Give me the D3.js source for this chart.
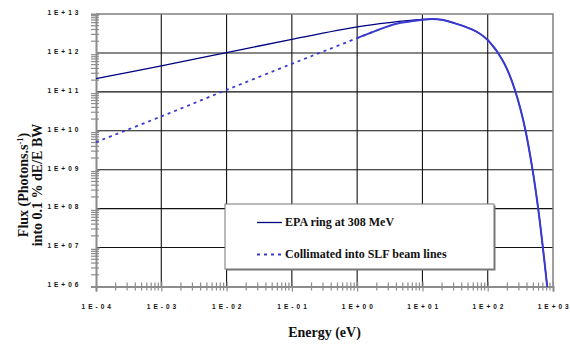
<!DOCTYPE html>
<html>
<head>
<meta charset="utf-8">
<script src="https://cdn.jsdelivr.net/npm/d3@7"></script>
<style>
  body { margin: 0; background: #fff; }
  svg { display: block; }
  .serif { font-family: "Liberation Serif", "Times New Roman", Times, serif; font-weight: bold; }
</style>
</head>
<body>
<div id="chart"></div>
<script>
// energy (eV) and flux
const energyRing = [1e-4, 1e-3, 1e-2, 1e-1, 1, 3.16, 10, 14.1, 20, 31.6, 56, 75, 100, 117, 136, 158, 178, 214, 261, 316, 380, 486, 593, 700, 815];
const fluxRing = [2.19e11, 4.68e11, 1.02e12, 2.24e12, 4.68e12, 6.03e12, 7.24e12, 7.41e12, 7.08e12, 5.75e12, 4.07e12, 3.16e12, 2.14e12, 1.58e12, 1.15e12, 7.76e11, 5.5e11, 2.82e11, 1.12e11, 3.72e10, 1.0e10, 1.0e9, 1.0e8, 1.0e7, 1.0e6];

const energyColl = [1e-4, 1e-3, 1e-2, 1e-1, 0.316, 1, 2, 4, 10, 14.1, 20, 31.6, 56, 75, 100, 117, 136, 158, 178, 214, 261, 316, 380, 486, 593, 700, 815];
const fluxColl = [5.13e9, 2.34e10, 1.12e11, 5.25e11, 1.12e12, 2.40e12, 3.80e12, 5.62e12, 7.08e12, 7.41e12, 7.08e12, 5.75e12, 4.07e12, 3.16e12, 2.14e12, 1.58e12, 1.15e12, 7.76e11, 5.5e11, 2.82e11, 1.12e11, 3.72e10, 1.0e10, 1.0e9, 1.0e8, 1.0e7, 1.0e6];

const xTicks = [1e-4, 1e-3, 1e-2, 1e-1, 1e0, 1e1, 1e2, 1e3];
const xTickLabels = ["1 E - 0 4", "1 E - 0 3", "1 E - 0 2", "1 E - 0 1", "1 E + 0 0", "1 E + 0 1", "1 E + 0 2", "1 E + 0 3"];
const yTicks = [1e6, 1e7, 1e8, 1e9, 1e10, 1e11, 1e12, 1e13];
const yTickLabels = ["1 E + 0 6", "1 E + 0 7", "1 E + 0 8", "1 E + 0 9", "1 E + 1 0", "1 E + 1 1", "1 E + 1 2", "1 E + 1 3"];

const seriesNames = ["EPA ring at 308 MeV", "Collimated into SLF beam lines"];

const width = 570, height = 345;
const margin = { top: 14, right: 17, bottom: 58.5, left: 96 };

const svg = d3.select("#chart").append("svg")
  .attr("width", width)
  .attr("height", height);

const x = d3.scaleLog().domain([1e-4, 1e3]).range([margin.left, width - margin.right]);
const y = d3.scaleLog().domain([1e6, 1e13]).range([height - margin.bottom, margin.top]);

// minor tick positions (2..9 in every decade)
const minorX = [], minorY = [];
xTicks.slice(0, -1).forEach(d => { for (let k = 2; k <= 9; k++) minorX.push(d * k); });
yTicks.slice(0, -1).forEach(d => { for (let k = 2; k <= 9; k++) minorY.push(d * k); });

// grid
const grid = svg.append("g");
grid.selectAll(".gx").data(xTicks.slice(1, -1)).join("line")
  .attr("x1", d => x(d)).attr("x2", d => x(d))
  .attr("y1", margin.top).attr("y2", height - margin.bottom)
  .attr("stroke", "#111").attr("stroke-width", 1.1);
grid.selectAll(".gy").data(yTicks.slice(1, -1)).join("line")
  .attr("x1", margin.left).attr("x2", width - margin.right)
  .attr("y1", d => y(d)).attr("y2", d => y(d))
  .attr("stroke", "#111").attr("stroke-width", 1.1);

// plot frame (top + right)
svg.append("path")
  .attr("d", `M${margin.left},${margin.top}H${width - margin.right}V${height - margin.bottom}`)
  .attr("fill", "none").attr("stroke", "#808080").attr("stroke-width", 1.5);

// axes
const xAxis = g => g
  .attr("transform", `translate(0,${height - margin.bottom})`)
  .call(d3.axisBottom(x).tickValues(xTicks).tickFormat((d, i) => xTickLabels[i]).tickSize(5).tickPadding(13));
const yAxis = g => g
  .attr("transform", `translate(${margin.left},0)`)
  .call(d3.axisLeft(y).tickValues(yTicks).tickFormat((d, i) => yTickLabels[i]).tickSize(5).tickPadding(12));

const gx = svg.append("g").call(xAxis);
const gy = svg.append("g").call(yAxis);
[gx, gy].forEach(g => {
  g.select(".domain").attr("stroke", "#8c8c8c").attr("stroke-width", 2);
  g.selectAll(".tick line").attr("stroke", "#8c8c8c").attr("stroke-width", 1.2);
  g.selectAll(".tick text")
    .attr("fill", "#111")
    .attr("font-family", "'Liberation Sans', Arial, sans-serif")
    .attr("font-size", 6.5)
    .attr("font-weight", "bold")
    .style("letter-spacing", "0.6px");
});
gx.selectAll(".tick line").attr("y1", -5);
gy.selectAll(".tick line").attr("x2", 4);
gy.selectAll(".tick text").attr("dy", "0.05em");

// minor ticks
svg.append("g").selectAll("line").data(minorX).join("line")
  .attr("x1", d => x(d)).attr("x2", d => x(d))
  .attr("y1", height - margin.bottom - 4).attr("y2", height - margin.bottom + 4)
  .attr("stroke", "#8c8c8c").attr("stroke-width", 1.2);
svg.append("g").selectAll("line").data(minorY).join("line")
  .attr("x1", margin.left - 5).attr("x2", margin.left + 3)
  .attr("y1", d => y(d)).attr("y2", d => y(d))
  .attr("stroke", "#8c8c8c").attr("stroke-width", 1.2);

// curves
const line = d3.line()
  .x(d => x(d[0]))
  .y(d => y(d[1]))
  .curve(d3.curveCatmullRom.alpha(0.5));

const ring = energyRing.map((e, i) => [e, fluxRing[i]]);
const coll = energyColl.map((e, i) => [e, fluxColl[i]]);

svg.append("path").datum(ring)
  .attr("d", line)
  .attr("fill", "none").attr("stroke", "#000080").attr("stroke-width", 1.3);

svg.append("path").datum(coll.filter(d => d[0] <= 2))
  .attr("d", line)
  .attr("fill", "none").attr("stroke", "#3a3ad0").attr("stroke-width", 1.8)
  .attr("stroke-dasharray", "3,4");

svg.append("path").datum(coll.filter(d => d[0] >= 1))
  .attr("d", line)
  .attr("fill", "none").attr("stroke", "#3a3ad0").attr("stroke-width", 2);

// legend
const lg = svg.append("g").attr("transform", "translate(225,204)");
lg.append("rect").attr("x", 1.5).attr("y", 1.5).attr("width", 269).attr("height", 65).attr("fill", "#777");
lg.append("rect").attr("width", 269).attr("height", 65)
  .attr("fill", "#fff").attr("stroke", "#777").attr("stroke-width", 1);

lg.append("line").attr("x1", 32).attr("x2", 57).attr("y1", 18.5).attr("y2", 18.5)
  .attr("stroke", "#000080").attr("stroke-width", 1.3);
lg.append("line").attr("x1", 32).attr("x2", 57).attr("y1", 50.5).attr("y2", 50.5)
  .attr("stroke", "#3a3ad0").attr("stroke-width", 1.8).attr("stroke-dasharray", "3,4");

lg.selectAll("text").data(seriesNames).join("text")
  .attr("class", "serif")
  .attr("x", 60)
  .attr("y", (d, i) => 22 + i * 32)
  .attr("font-size", 12)
  .attr("fill", "#111")
  .text(d => d);

// axis titles
svg.append("text")
  .attr("class", "serif")
  .attr("x", (margin.left + width - margin.right) / 2)
  .attr("y", 337)
  .attr("text-anchor", "middle")
  .attr("font-size", 14)
  .attr("fill", "#111")
  .text("Energy (eV)");

const yt = svg.append("text")
  .attr("class", "serif")
  .attr("transform", "translate(28,185) rotate(-90)")
  .attr("text-anchor", "middle")
  .attr("font-size", 14)
  .attr("fill", "#111");
yt.append("tspan").attr("x", 0).attr("dy", 0).text("Flux  (Photons.s");
yt.append("tspan").attr("dy", -5).attr("font-size", 8.5).text("-1");
yt.append("tspan").attr("dy", 5).text(")");
yt.append("tspan").attr("x", 0).attr("dy", 14).text("into 0.1 % dE/E BW");
</script>
</body>
</html>
